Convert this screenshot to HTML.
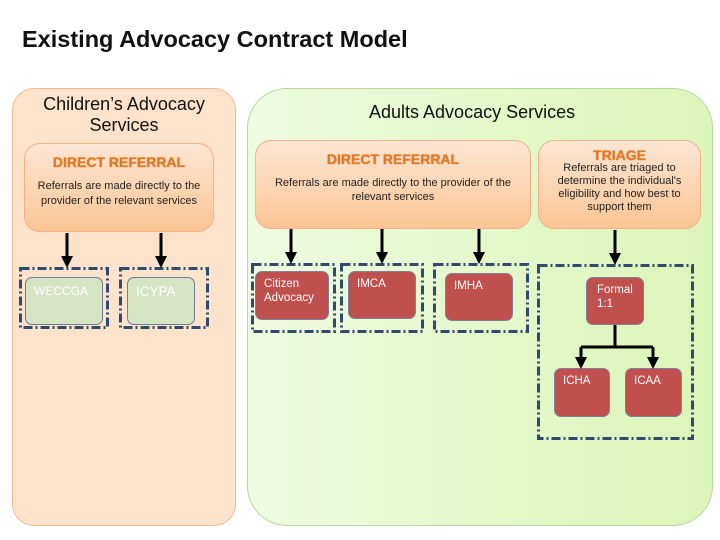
<!DOCTYPE html><html><head><style>
body{margin:0;width:720px;height:540px;background:#fff;position:relative;overflow:hidden;font-family:"Liberation Sans",Arial,sans-serif}
div{position:absolute;box-sizing:border-box}
.t{white-space:nowrap}
.ref{background:linear-gradient(#fde6d4,#fbc594);border:1px solid #f4b183;border-radius:16px;text-align:center;color:#222;font-size:11px}
.hd{font-weight:900;color:#e07b22;font-size:14px;text-shadow:0 0 1px #c05a10;letter-spacing:0}
.g{background:#d7e4c4;border:1px solid #6c7d95;border-radius:7px;color:#fff;font-size:12px;padding:6px 8px}
.r{background:#c0504d;border:1px solid #7f7f9a;border-radius:7px;color:#fff;font-size:11.5px;padding:5px 8px;line-height:14px}
</style></head><body>
<div class="t" style="left:22px;top:26px;font-size:23.5px;font-weight:bold;color:#111">Existing Advocacy Contract Model</div>
<div style="left:12px;top:88px;width:224px;height:438px;border-radius:22px;background:#fde2cc;border:1px solid #f3b98e"></div>
<div style="left:247px;top:88px;width:466px;height:438px;border-radius:40px;background:linear-gradient(90deg,#eefbe0,#dbf5b8);border:1px solid #b7d99b"></div>
<div style="left:12px;top:94px;width:224px;text-align:center;font-size:18px;line-height:21px;color:#111">Children’s Advocacy<br>Services</div>
<div class="t" style="left:369px;top:102px;font-size:18px;color:#111">Adults Advocacy Services</div>

<div class="ref" style="left:24px;top:143px;width:190px;height:89px;padding-top:10px"><div class="hd" style="position:static">DIRECT REFERRAL</div><div style="position:static;margin-top:9px;line-height:15px">Referrals are made directly to the<br>provider of the relevant services</div></div>
<div class="ref" style="left:255px;top:140px;width:276px;height:89px;padding-top:10px"><div class="hd" style="position:static">DIRECT REFERRAL</div><div style="position:static;margin-top:9px;line-height:14px">Referrals are made directly to the provider of the<br>relevant services</div></div>
<div class="ref" style="left:538px;top:140px;width:163px;height:89px;padding-top:8px;line-height:13px"><div class="hd" style="position:static">TRIAGE</div><div style="position:static">Referrals are triaged to<br>determine the individual's<br>eligibility and how best to<br>support them</div></div>

<svg width="720" height="540" style="position:absolute;left:0;top:0">
<g stroke="#2f4a6e" stroke-width="3" fill="none" stroke-dasharray="9 3 2 3">
<rect x="20.5" y="268.5" width="87" height="59"/>
<rect x="120.5" y="268.5" width="87" height="59"/>
<rect x="252.5" y="264.5" width="82" height="67"/>
<rect x="341.5" y="264.5" width="81" height="67"/>
<rect x="434.5" y="264.5" width="93" height="67"/>
<rect x="538.5" y="265.5" width="154" height="173"/>
</g>
</svg>

<div class="g" style="left:25px;top:277px;width:78px;height:48px">WECCGA</div>
<div class="g" style="left:127px;top:277px;width:68px;height:48px;font-size:13.5px">ICYPA</div>
<div class="r" style="left:255px;top:271px;width:74px;height:49px">Citizen<br>Advocacy</div>
<div class="r" style="left:348px;top:271px;width:68px;height:48px">IMCA</div>
<div class="r" style="left:445px;top:273px;width:68px;height:48px">IMHA</div>
<div class="r" style="left:586px;top:277px;width:58px;height:48px;padding-left:10px">Formal<br>1:1</div>
<div class="r" style="left:554px;top:368px;width:56px;height:49px">ICHA</div>
<div class="r" style="left:625px;top:368px;width:57px;height:49px">ICAA</div>

<svg width="720" height="540" style="position:absolute;left:0;top:0">
<defs><marker id="a" markerWidth="4" markerHeight="4" refX="2" refY="2" orient="auto"><path d="M0,0L4,2L0,4z" fill="#000"/></marker></defs>
<g stroke="#000" stroke-width="3" fill="none" marker-end="url(#a)">
<path d="M67 233V262"/><path d="M161 233V262"/>
<path d="M291 229V258"/><path d="M382 229V258"/><path d="M479 229V258"/>
<path d="M615 230V259"/>
<path d="M581 347V363"/><path d="M653 347V363"/>
</g>
<path d="M615 325V347M581 347H653" stroke="#000" stroke-width="3" fill="none"/>
</svg>
</body></html>
